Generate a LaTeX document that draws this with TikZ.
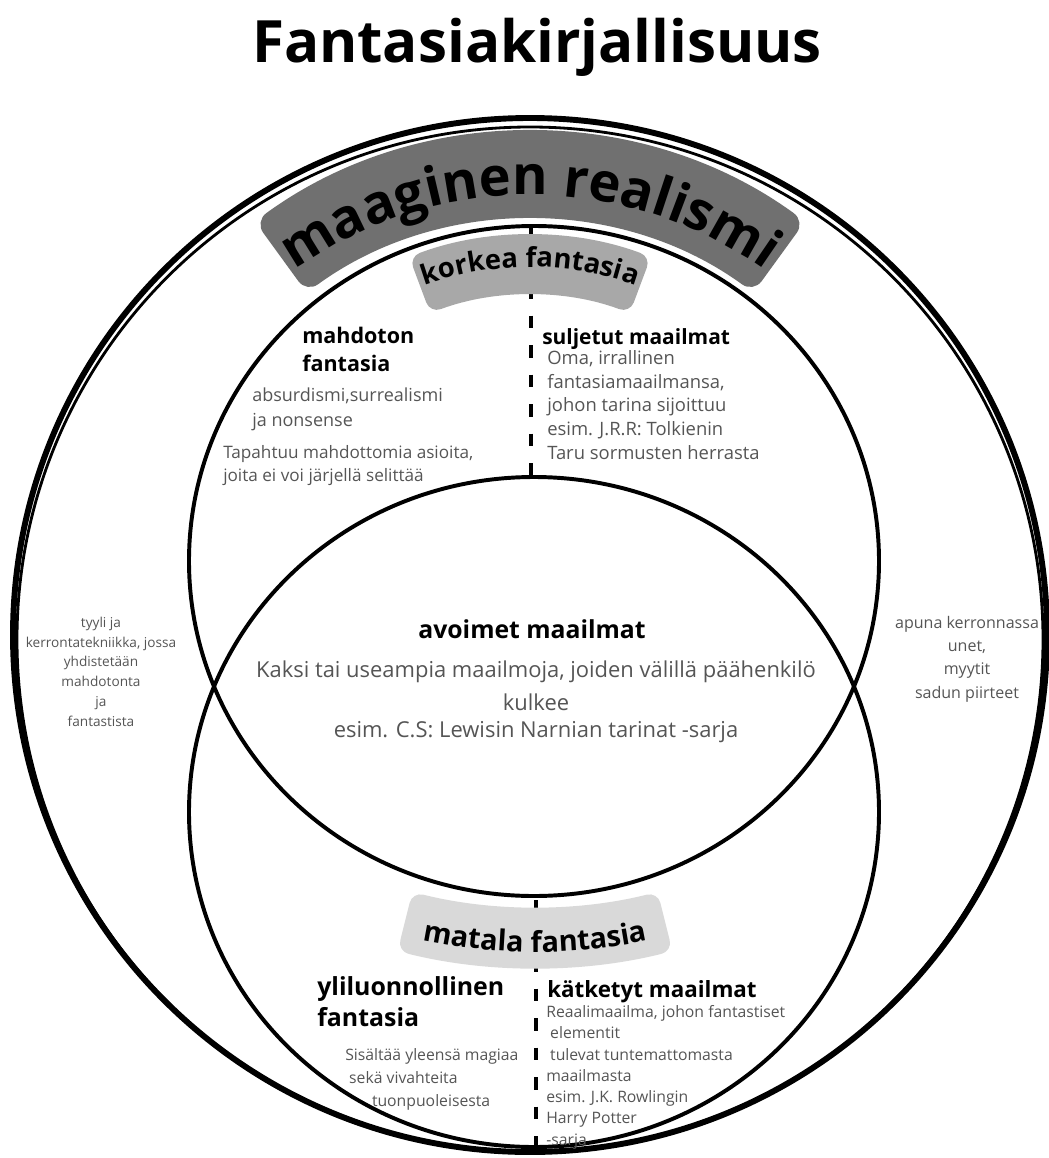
\documentclass[tikz,border=0pt]{standalone}
\usepackage{fontspec}
\setmainfont{Open Sans}
\usetikzlibrary{calc,decorations.text}

\definecolor{bodygray}{HTML}{555555}
\definecolor{realgray}{HTML}{707070}
\definecolor{highgray}{HTML}{A8A8A8}
\definecolor{lowgray}{HTML}{D9D9D9}

\newcommand\titlefont{\fontsize{41.5pt}{44pt}\selectfont\bfseries}
\newcommand\realfont{\fontsize{38.5pt}{40pt}\selectfont\bfseries}
\newcommand\highfont{\fontsize{19.5pt}{21pt}\selectfont\bfseries}
\newcommand\lowfont{\fontsize{20.5pt}{22pt}\selectfont\bfseries}

\def\bandarc[#1](#2)(#3:#4:#5:#6){\fill[#1] ($(#2)+(#3:#5)$) arc (#3:#4:#5) -- ($(#2)+(#4:#6)$) arc (#4:#3:#6) -- cycle;}
\def\arctext[#1](#2)(#3:#4:#5)#6{\path[decorate,decoration={text along path,text align=center,text={|#1|#6}}] ($(#2)+(#3:#5)$) arc (#3:#4:#5);}

\begin{document}
\begin{tikzpicture}[x=0.025cm, y=0.025cm,
	head/.style 2 args={anchor=base west, inner sep=0pt, align=left, font=\fontsize{#1}{#2}\selectfont\bfseries},
	body/.style 2 args={anchor=base west, inner sep=0pt, align=left, text=bodygray, font=\fontsize{#1}{#2}\selectfont},
	ring/.style={line width=2.8pt},
	split/.style={line width=2.8pt, dash pattern=on 9pt off 12pt}]
			%%%%% START %%%%%
			
			\useasboundingbox (0,0) rectangle (1049,-1158);
			
			\node[anchor=base, inner sep=0pt, font=\titlefont] (title) at (537,-62) {Fantasiakirjallisuus};
			
			% outer ring, drawn twice
			\draw[line width=4.2pt] (530,-635) circle [radius=517];
			\draw[line width=2pt] (530,-639.5) ellipse [x radius=513, y radius=512.5];
			
			\draw[ring] (534,-561) ellipse [x radius=345, y radius=335];
			\draw[ring] (534,-812) ellipse [x radius=345, y radius=335];
			
			\draw[split] (531,-227) -- (531,-477);
			\draw[split] (536,-900) -- (536,-1158);
			
			% curved banners
			\bandarc[realgray, rounded corners=10pt](530,-600)(126:54:468:380)
			\arctext[\realfont](530,-600)(140:40:405){maaginen realismi}
			
			\bandarc[highgray, rounded corners=8pt](530,-580)(110.5:69.5:345:285)
			\arctext[\highfont](530,-580)(125:55:313){korkea fantasia}
			
			\bandarc[lowgray, rounded corners=8pt](535,-400)(256:284:507:568)
			\arctext[\lowfont](535,-400)(250:290:552){matala fantasia}
			
			% upper circle (base = last line)
			\node[head={15.3pt}{19.8pt}] (mahdoton) at (302,-371) {mahdoton\\fantasia};
			\node[body={12.8pt}{17.7pt}] (absurdi) at (252,-426) {absurdismi,surrealismi\\ja nonsense};
			\node[body={12.2pt}{16.3pt}] (tapahtuu) at (223,-481) {Tapahtuu mahdottomia asioita,\\joita ei voi järjellä selittää};
			\node[head={14.9pt}{17pt}] (suljetut) at (542,-344) {suljetut maailmat};
			\node[body={13.1pt}{16.8pt}] (oma) at (547,-459) {Oma, irrallinen\\fantasiamaailmansa,\\johon tarina sijoittuu\\esim. J.R.R: Tolkienin\\Taru sormusten herrasta};
			
			% outer ring sides
			\node[body={9.7pt}{14pt}, anchor=base, align=center] (tyyli) at (101,-726) {tyyli ja\\kerrontatekniikka, jossa\\yhdistetään\\mahdotonta\\ja\\fantastista};
			\node[body={11.4pt}{16.5pt}, anchor=base, align=center] (apuna) at (967,-698) {apuna kerronnassa\\unet,\\myytit\\sadun piirteet};
			
			% lens
			\node[head={17.6pt}{20pt}, anchor=base] (avoimet) at (532,-638) {avoimet maailmat};
			\node[body={15.6pt}{19.1pt}, anchor=base, align=center] (kaksi) at (536,-737) {Kaksi tai useampia maailmoja, joiden välillä päähenkilö\\[4.3pt]kulkee\\esim. C.S: Lewisin Narnian tarinat -sarja};
			
			% lower circle
			\node[head={17.7pt}{22pt}] (yli) at (317,-1026) {yliluonnollinen\\fantasia};
			\node[body={11.2pt}{16.3pt}] (sisaltaa) at (345,-1106) {Sisältää yleensä magiaa\\\hspace*{2.8pt}sekä vivahteita\\\hspace*{19pt}tuonpuoleisesta};
			\node[head={15.9pt}{18pt}] (katketyt) at (547,-997) {kätketyt maailmat};
			\node[body={11.2pt}{15.1pt}] (reaali) at (546,-1145) {Reaalimaailma, johon fantastiset\\\hspace*{2.8pt}elementit\\\hspace*{2.8pt}tulevat tuntemattomasta\\maailmasta\\esim. J.K. Rowlingin\\Harry Potter\\-sarja};
			
			%%%%% END %%%%%
\end{tikzpicture}
\end{document}
